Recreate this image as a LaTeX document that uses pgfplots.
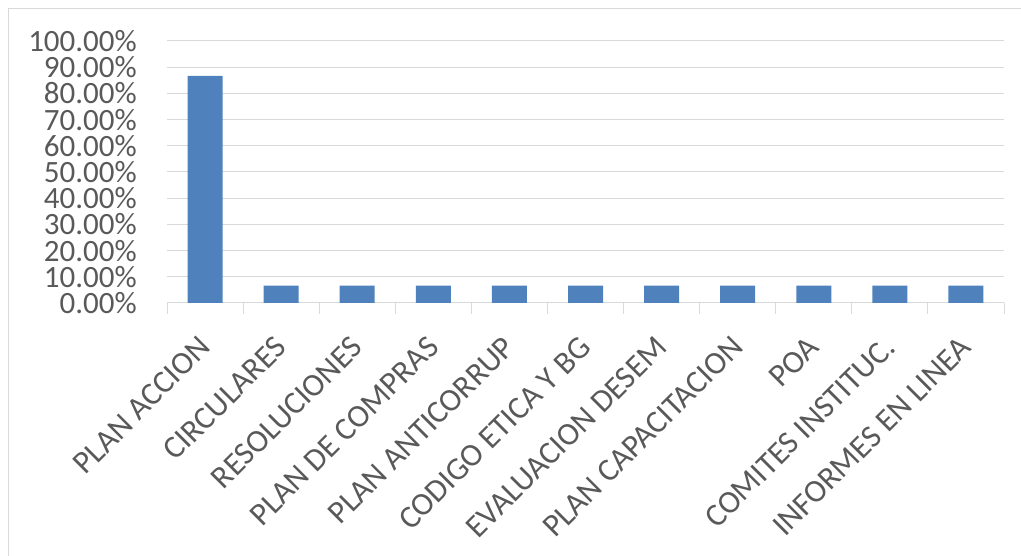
\documentclass[border=0pt]{standalone}
\usepackage{pgfplots}
\pgfplotsset{compat=1.18}
\usepackage{fontspec}
\setmainfont{Carlito}
\definecolor{barblue}{HTML}{4F81BD}
\definecolor{gridgray}{HTML}{D9D9D9}
\definecolor{txtgray}{HTML}{595959}
\begin{document}
\begin{tikzpicture}[x=1bp,y=1bp]
\useasboundingbox (0,0) rectangle (1021,556);
\draw[gridgray, line width=1.2bp] (8.5,0) -- (8.5,547.5) -- (1021,547.5);
\begin{axis}[
  at={(167bp,253bp)}, anchor=south west,
  width=837bp, height=262bp, scale only axis,
  xmin=-0.5, xmax=10.5, ymin=0, ymax=100,
  axis line style={draw=none},
  ybar, bar width=35bp,
  major tick length=0pt, minor tick length=11bp, tick align=outside,
  ytick={0,10,...,100},
  yticklabels={0.00\%,10.00\%,20.00\%,30.00\%,40.00\%,50.00\%,60.00\%,70.00\%,80.00\%,90.00\%,100.00\%},
  ymajorgrids, grid style={gridgray, line width=1bp},
  ytick style={draw=none},
  yticklabel style={font=\fontsize{31bp}{31bp}\selectfont, text=txtgray, inner sep=0pt, anchor=east, xshift=-30bp},
  xtick={0,...,10},
  xticklabels={PLAN ACCION,CIRCULARES,RESOLUCIONES,PLAN DE COMPRAS,PLAN ANTICORRUP,CODIGO ETICA Y BG,EVALUACION DESEM,PLAN CAPACITACION,POA,COMITES INSTITUC.,INFORMES EN LINEA},
  minor xtick={-0.5,0.5,...,10.5},
  xtick pos=bottom,
  minor tick style={gridgray, line width=1bp},
  xticklabel style={font=\fontsize{32bp}{32bp}\selectfont, text=txtgray, inner sep=0pt, yshift=-39bp, rotate=45, anchor=east},
]
\addplot[fill=barblue, draw=none] coordinates {(0,86.67) (1,6.67) (2,6.67) (3,6.67) (4,6.67) (5,6.67) (6,6.67) (7,6.67) (8,6.67) (9,6.67) (10,6.67)};
\end{axis}
\end{tikzpicture}
\end{document}
